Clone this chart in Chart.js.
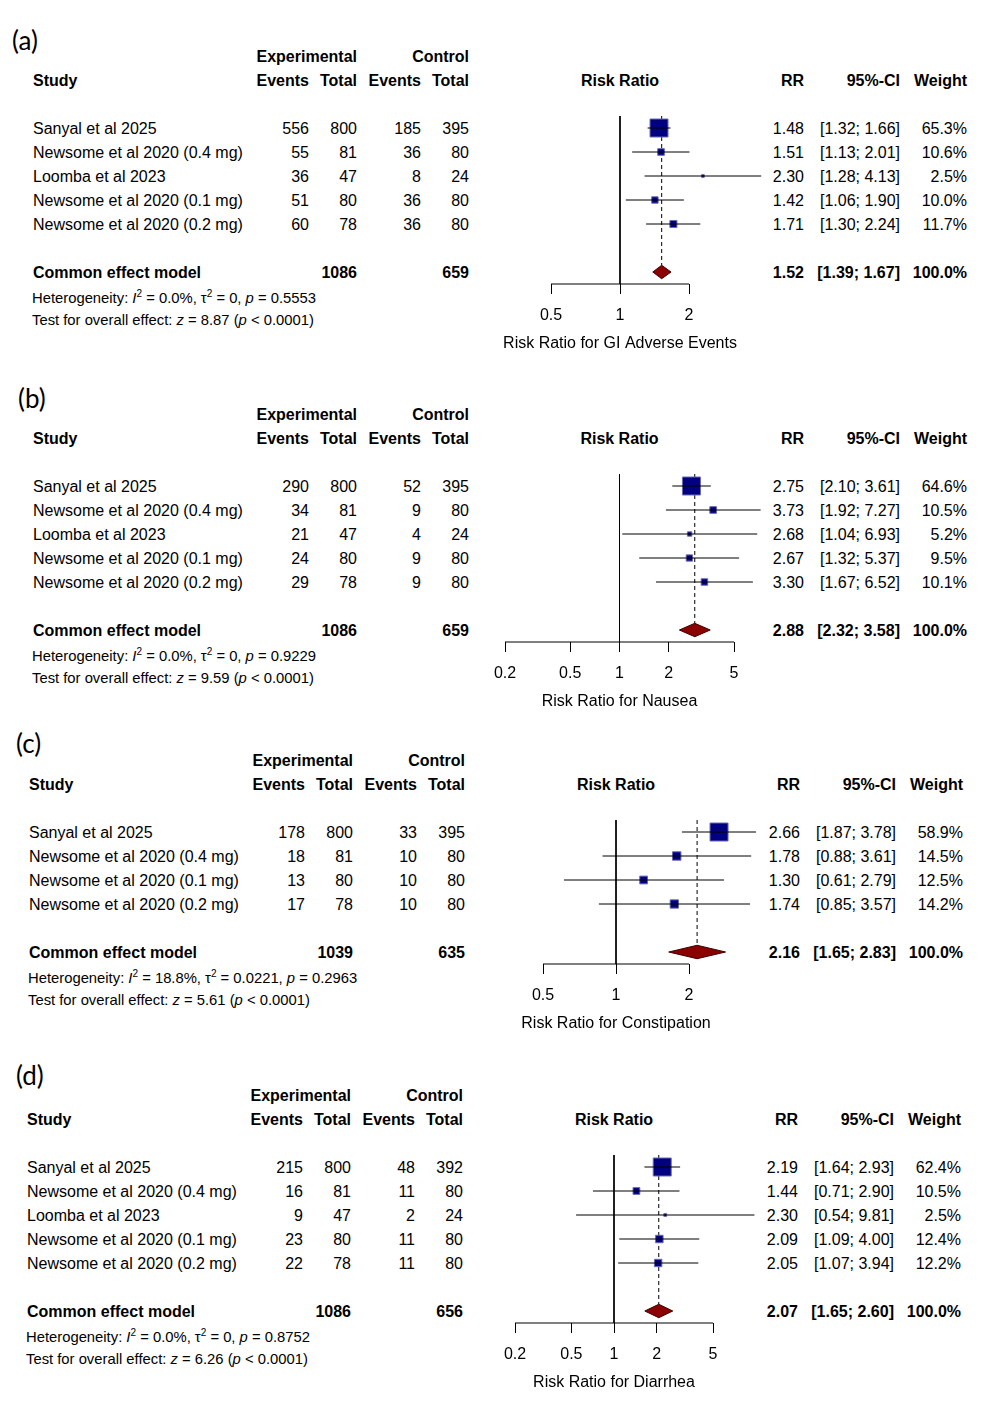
<!DOCTYPE html>
<html>
<head>
<meta charset="utf-8">
<script src="https://cdn.jsdelivr.net/npm/chart.js@4.4.1/dist/chart.umd.min.js"></script>
<style>
  body { margin: 0; background: #fff; }
  #page { position: relative; width: 1000px; height: 1403px; overflow: hidden;
          font-family: "Liberation Sans", Arial, sans-serif; font-size: 16px; color: #000; }
  .t { position: absolute; white-space: nowrap; line-height: 20px; height: 20px; }
  .b { font-weight: bold; }
  .s { font-size: 14.8px; }
  .s sup { font-size: 10px; line-height: 0; vertical-align: 6px; }
  .tag { font-family: Lato, "Open Sans", sans-serif; font-size: 26px; line-height: 30px; height: 30px; }
  canvas { position: absolute; left: 0; }
</style>
</head>
<body>
<div id="page"></div>
<script>
// (a) GI adverse events
const studiesA = ["Sanyal et al 2025", "Newsome et al 2020 (0.4 mg)", "Loomba et al 2023", "Newsome et al 2020 (0.1 mg)", "Newsome et al 2020 (0.2 mg)"];
const expEventsA = [556, 55, 36, 51, 60];
const expTotalA = [800, 81, 47, 80, 78];
const ctrlEventsA = [185, 36, 8, 36, 36];
const ctrlTotalA = [395, 80, 24, 80, 80];
const rrA = [1.48, 1.51, 2.30, 1.42, 1.71];
const lowerA = [1.32, 1.13, 1.28, 1.06, 1.30];
const upperA = [1.66, 2.01, 4.13, 1.90, 2.24];
const weightA = [65.3, 10.6, 2.5, 10.0, 11.7];
const pooledA = [1.52, 1.39, 1.67]; // RR, lower, upper
const totalsA = [1086, 659];
const hetA = ["0.0%", "0", "0.5553"]; // I2, tau2, p
const zA = "8.87";
const ticksA = [0.5, 1, 2];
const titleA = "Risk Ratio for GI Adverse Events";

// (b) nausea
const studiesB = ["Sanyal et al 2025", "Newsome et al 2020 (0.4 mg)", "Loomba et al 2023", "Newsome et al 2020 (0.1 mg)", "Newsome et al 2020 (0.2 mg)"];
const expEventsB = [290, 34, 21, 24, 29];
const expTotalB = [800, 81, 47, 80, 78];
const ctrlEventsB = [52, 9, 4, 9, 9];
const ctrlTotalB = [395, 80, 24, 80, 80];
const rrB = [2.75, 3.73, 2.68, 2.67, 3.30];
const lowerB = [2.10, 1.92, 1.04, 1.32, 1.67];
const upperB = [3.61, 7.27, 6.93, 5.37, 6.52];
const weightB = [64.6, 10.5, 5.2, 9.5, 10.1];
const pooledB = [2.88, 2.32, 3.58];
const totalsB = [1086, 659];
const hetB = ["0.0%", "0", "0.9229"];
const zB = "9.59";
const ticksB = [0.2, 0.5, 1, 2, 5];
const titleB = "Risk Ratio for Nausea";

// (c) constipation
const studiesC = ["Sanyal et al 2025", "Newsome et al 2020 (0.4 mg)", "Newsome et al 2020 (0.1 mg)", "Newsome et al 2020 (0.2 mg)"];
const expEventsC = [178, 18, 13, 17];
const expTotalC = [800, 81, 80, 78];
const ctrlEventsC = [33, 10, 10, 10];
const ctrlTotalC = [395, 80, 80, 80];
const rrC = [2.66, 1.78, 1.30, 1.74];
const lowerC = [1.87, 0.88, 0.61, 0.85];
const upperC = [3.78, 3.61, 2.79, 3.57];
const weightC = [58.9, 14.5, 12.5, 14.2];
const pooledC = [2.16, 1.65, 2.83];
const totalsC = [1039, 635];
const hetC = ["18.8%", "0.0221", "0.2963"];
const zC = "5.61";
const ticksC = [0.5, 1, 2];
const titleC = "Risk Ratio for Constipation";

// (d) diarrhea
const studiesD = ["Sanyal et al 2025", "Newsome et al 2020 (0.4 mg)", "Loomba et al 2023", "Newsome et al 2020 (0.1 mg)", "Newsome et al 2020 (0.2 mg)"];
const expEventsD = [215, 16, 9, 23, 22];
const expTotalD = [800, 81, 47, 80, 78];
const ctrlEventsD = [48, 11, 2, 11, 11];
const ctrlTotalD = [392, 80, 24, 80, 80];
const rrD = [2.19, 1.44, 2.30, 2.09, 2.05];
const lowerD = [1.64, 0.71, 0.54, 1.09, 1.07];
const upperD = [2.93, 2.90, 9.81, 4.00, 3.94];
const weightD = [62.4, 10.5, 2.5, 12.4, 12.2];
const pooledD = [2.07, 1.65, 2.60];
const totalsD = [1086, 656];
const hetD = ["0.0%", "0", "0.8752"];
const zD = "6.26";
const ticksD = [0.2, 0.5, 1, 2, 5];
const titleD = "Risk Ratio for Diarrhea";

const panels = [
  { tag: "(a)", studies: studiesA, expEv: expEventsA, expTot: expTotalA, ctlEv: ctrlEventsA, ctlTot: ctrlTotalA,
    rr: rrA, lo: lowerA, hi: upperA, w: weightA, pooled: pooledA, totals: totalsA, het: hetA, z: zA, ticks: ticksA, title: titleA },
  { tag: "(b)", studies: studiesB, expEv: expEventsB, expTot: expTotalB, ctlEv: ctrlEventsB, ctlTot: ctrlTotalB,
    rr: rrB, lo: lowerB, hi: upperB, w: weightB, pooled: pooledB, totals: totalsB, het: hetB, z: zB, ticks: ticksB, title: titleB },
  { tag: "(c)", studies: studiesC, expEv: expEventsC, expTot: expTotalC, ctlEv: ctrlEventsC, ctlTot: ctrlTotalC,
    rr: rrC, lo: lowerC, hi: upperC, w: weightC, pooled: pooledC, totals: totalsC, het: hetC, z: zC, ticks: ticksC, title: titleC },
  { tag: "(d)", studies: studiesD, expEv: expEventsD, expTot: expTotalD, ctlEv: ctrlEventsD, ctlTot: ctrlTotalD,
    rr: rrD, lo: lowerD, hi: upperD, w: weightD, pooled: pooledD, totals: totalsD, het: hetD, z: zD, ticks: ticksD, title: titleD },
];

// placement on the page: header line, column shift, pixel span of the drawn axis
const layouts = [
  { tagX: 12, tagY: 40, top: 56, dx: 0, p0: 551, p1: 689 },
  { tagX: 18, tagY: 398, top: 414, dx: 0, p0: 505, p1: 734 },
  { tagX: 16, tagY: 743, top: 760, dx: -4, p0: 543, p1: 689 },
  { tagX: 16, tagY: 1075, top: 1095, dx: -6, p0: 515, p1: 713 },
];

const ROW = 24;
const FONT = "'Liberation Sans', Arial, sans-serif";
const page = document.getElementById("page");

function txt(html, x, y, align, cls) {
  const d = document.createElement("div");
  d.className = "t " + (cls || "");
  d.innerHTML = html;
  d.style.left = x + "px";
  d.style.top = (y - 9) + "px";
  if (align === "right") d.style.transform = "translateX(-100%)";
  if (align === "center") d.style.transform = "translateX(-50%)";
  page.appendChild(d);
  return d;
}

function drawTable(p, L) {
  const n = p.studies.length;
  const dx = L.dx;
  const col = { study: 33 + dx, ev1: 309 + dx, tot1: 357 + dx, ev2: 421 + dx, tot2: 469 + dx, rr: 804 + dx, ci: 900 + dx, w: 967 + dx };
  const t0 = p.ticks[0], t1 = p.ticks[p.ticks.length - 1];
  const onePx = L.p0 + (L.p1 - L.p0) * Math.log(1 / t0) / Math.log(t1 / t0);
  const h1 = L.top, h2 = L.top + ROW, r0 = L.top + 3 * ROW;
  const common = r0 + (n + 1) * ROW;

  const tag = txt(p.tag, L.tagX, L.tagY, "left", "tag");
  tag.style.top = (L.tagY - 15) + "px";

  txt("Experimental", col.tot1, h1, "right", "b");
  txt("Control", col.tot2, h1, "right", "b");
  txt("Study", col.study, h2, "left", "b");
  txt("Events", col.ev1, h2, "right", "b");
  txt("Total", col.tot1, h2, "right", "b");
  txt("Events", col.ev2, h2, "right", "b");
  txt("Total", col.tot2, h2, "right", "b");
  txt("Risk Ratio", onePx, h2, "center", "b");
  txt("RR", col.rr, h2, "right", "b");
  txt("95%-CI", col.ci, h2, "right", "b");
  txt("Weight", col.w, h2, "right", "b");

  p.studies.forEach((s, i) => {
    const y = r0 + i * ROW;
    txt(s, col.study, y, "left");
    txt(String(p.expEv[i]), col.ev1, y, "right");
    txt(String(p.expTot[i]), col.tot1, y, "right");
    txt(String(p.ctlEv[i]), col.ev2, y, "right");
    txt(String(p.ctlTot[i]), col.tot2, y, "right");
    txt(p.rr[i].toFixed(2), col.rr, y, "right");
    txt("[" + p.lo[i].toFixed(2) + "; " + p.hi[i].toFixed(2) + "]", col.ci, y, "right");
    txt(p.w[i].toFixed(1) + "%", col.w, y, "right");
  });

  txt("Common effect model", col.study, common, "left", "b");
  txt(String(p.totals[0]), col.tot1, common, "right", "b");
  txt(String(p.totals[1]), col.tot2, common, "right", "b");
  txt(p.pooled[0].toFixed(2), col.rr, common, "right", "b");
  txt("[" + p.pooled[1].toFixed(2) + "; " + p.pooled[2].toFixed(2) + "]", col.ci, common, "right", "b");
  txt("100.0%", col.w, common, "right", "b");

  txt("Heterogeneity: <i>I</i><sup>2</sup> = " + p.het[0] + ", &tau;<sup>2</sup> = " + p.het[1] + ", <i>p</i> = " + p.het[2],
      col.study - 1, common + 25, "left", "s");
  txt("Test for overall effect: <i>z</i> = " + p.z + " (<i>p</i> &lt; 0.0001)", col.study - 1, common + 47, "left", "s");
}

function drawPlot(p, L) {
  const n = p.studies.length;
  const rowCommon = n + 1;
  const yMax = n + 1.5;
  const areaTop = L.top + 3 * ROW - ROW / 2;
  const t0 = p.ticks[0], t1 = p.ticks[p.ticks.length - 1];
  // value at a pixel, on the log scale defined by the drawn axis
  const valAt = (px) => t0 * Math.pow(t1 / t0, (px - L.p0) / (L.p1 - L.p0));
  const center = (L.p0 + L.p1) / 2;
  const left = center - 150, right = center + 150;

  const canvas = document.createElement("canvas");
  canvas.width = 1000;
  canvas.height = (n + 2) * ROW + 10 + 72;
  canvas.style.top = (areaTop - 10) + "px";
  page.appendChild(canvas);

  const wMax = Math.max(...p.w);
  const datasets = [];
  // axis line across the tick range
  datasets.push({ data: [{ x: t0, y: yMax }, { x: t1, y: yMax }], borderColor: "#000", borderWidth: 1, pointRadius: 0, clip: false, order: 20 });
  // line of no effect
  datasets.push({ data: [{ x: 1, y: -0.5 }, { x: 1, y: yMax }], borderColor: "#000", borderWidth: 1, pointRadius: 0, clip: false, order: 19 });
  // pooled estimate, dashed
  datasets.push({ data: [{ x: p.pooled[0], y: -0.5 }, { x: p.pooled[0], y: rowCommon - 0.28 }], borderColor: "#000", borderWidth: 1,
                  borderDash: [4, 3], pointRadius: 0, clip: false, order: 18 });
  // study boxes, area by weight
  datasets.push({
    data: p.rr.map((v, i) => ({ x: v, y: i })),
    showLine: false,
    pointStyle: "rect",
    pointRadius: p.w.map(w => Math.max(1, 19 * Math.sqrt(w / wMax) - 1) / Math.SQRT2),
    backgroundColor: "#000080",
    borderColor: "#6a6ab2",
    borderWidth: 1,
    clip: false,
    order: 10,
  });
  // confidence intervals
  p.lo.forEach((lo, i) => {
    datasets.push({ data: [{ x: lo, y: i }, { x: p.hi[i], y: i }], borderColor: "#000", borderWidth: 1, pointRadius: 0, clip: false, order: 5 });
  });
  // pooled diamond
  const [est, plo, phi] = p.pooled;
  datasets.push({
    data: [{ x: plo, y: rowCommon }, { x: est, y: rowCommon - 0.28 }, { x: phi, y: rowCommon }, { x: est, y: rowCommon + 0.28 }, { x: plo, y: rowCommon }],
    fill: "shape",
    backgroundColor: "#8b0000",
    borderColor: "#400000",
    borderWidth: 1,
    pointRadius: 0,
    clip: false,
    order: 1,
  });

  new Chart(canvas, {
    type: "line",
    data: { datasets },
    options: {
      responsive: false,
      animation: false,
      events: [],
      layout: { autoPadding: false, padding: { left: left, right: 1000 - right, top: 10, bottom: 2 } },
      plugins: { legend: { display: false }, tooltip: { enabled: false } },
      scales: {
        x: {
          type: "logarithmic",
          position: "bottom",
          min: valAt(left),
          max: valAt(right),
          bounds: "data",
          afterBuildTicks: (scale) => { scale.ticks = p.ticks.map(v => ({ value: v })); },
          afterFit: (scale) => { scale.height = 70; },
          ticks: { autoSkip: false, maxRotation: 0, padding: 12, color: "#000", font: { family: FONT, size: 16 },
                   callback: (v) => String(v) },
          grid: { drawOnChartArea: false, drawTicks: true, tickLength: 10, color: "#000", lineWidth: 1 },
          border: { display: false },
          title: { display: true, text: p.title, color: "#000", font: { family: FONT, size: 16 }, padding: { top: 0, bottom: 1 } },
        },
        y: { type: "linear", display: false, reverse: true, min: -0.5, max: yMax, bounds: "data" },
      },
    },
  });
}

panels.forEach((p, i) => {
  drawTable(p, layouts[i]);
  drawPlot(p, layouts[i]);
});
</script>
</body>
</html>
